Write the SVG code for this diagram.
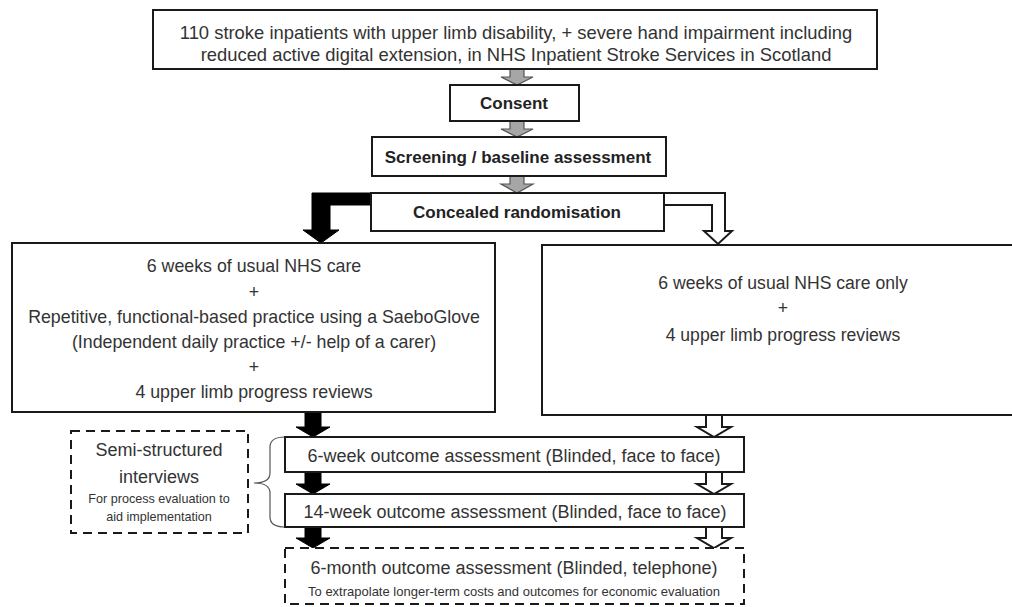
<svg xmlns="http://www.w3.org/2000/svg" width="1012" height="607" viewBox="0 0 1012 607">
<style>
.box{fill:#fff;stroke:#1a1a1a;stroke-width:2}
.dash{fill:#fff;stroke:#1a1a1a;stroke-width:2;stroke-dasharray:9 6}
.t{font-family:"Liberation Sans",Arial,sans-serif;fill:#333;text-anchor:middle;dominant-baseline:central}
.b{font-weight:bold;fill:#222}
.gray{fill:#a6a6a6;stroke:#555;stroke-width:1.2}
.blk{fill:#000;stroke:#000;stroke-width:1}
.wht{fill:#fff;stroke:#1a1a1a;stroke-width:2;stroke-linejoin:miter}
.brace{fill:none;stroke:#555;stroke-width:1.2}
</style>
<rect width="1012" height="607" fill="#fff"/>
<g id="connectors">
<polygon class="gray" points="510,69 524,69 524,77 533,77 517,85 501,77 510,77"/>
<polygon class="gray" points="510,121 524,121 524,129 533,129 517,137 501,129 510,129"/>
<polygon class="gray" points="510,176 524,176 524,184 533,184 517,193 501,184 510,184"/>
<path class="blk" d="M371 193 L312 193 L312 230 L303 230 L321 243 L339 230 L330 230 L330 205 L371 205 Z"/>
<path class="wht" d="M664 193 L725 193 L725 231 L732 231 L718 244 L704 231 L712 231 L712 205 L664 205"/>
<path class="blk" d="M305 413 L321 413 L321 427 L330 427 L313 437 L296 427 L305 427 Z"/>
<path class="blk" d="M305 472 L321 472 L321 484 L330 484 L313 494 L296 484 L305 484 Z"/>
<path class="blk" d="M305 527 L321 527 L321 538 L330 538 L313 548 L296 538 L305 538 Z"/>
<path class="wht" d="M706 415 L706 427 L697 427 L714 437 L731 427 L722 427 L722 415"/>
<path class="wht" d="M706 473 L706 484 L697 484 L714 494 L731 484 L722 484 L722 473"/>
<path class="wht" d="M706 527 L706 538 L697 538 L714 548 L731 538 L722 538 L722 527"/>
<path class="brace" d="M285 437 Q270 437 270 447 L270 473 Q270 483 254 483 Q270 483 270 493 L270 517 Q270 527 285 527"/>
</g>
<g id="n-population">
<rect class="box" x="153" y="10" width="724" height="59"/>
<text class="t" x="516" y="32" font-size="18.4">110 stroke inpatients with upper limb disability, + severe hand impairment including</text>
<text class="t" x="516" y="54" font-size="18.4">reduced active digital extension, in NHS Inpatient Stroke Services in Scotland</text>
</g>
<g id="n-consent">
<rect class="box" x="450" y="85" width="129" height="36"/>
<text class="t b" x="514" y="103" font-size="17">Consent</text>
</g>
<g id="n-screening">
<rect class="box" x="372" y="137" width="294" height="39"/>
<text class="t b" x="518" y="157" font-size="17">Screening / baseline assessment</text>
</g>
<g id="n-randomisation">
<rect class="box" x="371" y="193" width="293" height="38"/>
<text class="t b" x="517" y="212" font-size="17">Concealed randomisation</text>
</g>
<g id="n-intervention">
<rect class="box" x="12" y="243" width="483" height="169"/>
<text class="t" x="254" y="266" font-size="17.8">6 weeks of usual NHS care</text>
<text class="t" x="254" y="292" font-size="17.8">+</text>
<text class="t" x="254" y="317" font-size="17.8">Repetitive, functional-based practice using a SaeboGlove</text>
<text class="t" x="254" y="342" font-size="17.8">(Independent daily practice +/- help of a carer)</text>
<text class="t" x="254" y="367" font-size="17.8">+</text>
<text class="t" x="254" y="392" font-size="17.8">4 upper limb progress reviews</text>
</g>
<g id="n-control">
<rect class="box" x="542" y="245" width="480" height="170"/>
<text class="t" x="783" y="283" font-size="17.6">6 weeks of usual NHS care only</text>
<text class="t" x="783" y="308" font-size="17.6">+</text>
<text class="t" x="783" y="335" font-size="17.6">4 upper limb progress reviews</text>
</g>
<g id="n-interviews">
<rect class="dash" x="71" y="431" width="177" height="102"/>
<text class="t" x="159" y="450" font-size="18">Semi-structured</text>
<text class="t" x="159" y="477" font-size="18">interviews</text>
<text class="t" x="159" y="499" font-size="12.6">For process evaluation to</text>
<text class="t" x="159" y="517" font-size="12.6">aid implementation</text>
</g>
<g id="n-week6">
<rect class="box" x="285" y="437" width="459" height="35"/>
<text class="t" x="514" y="456" font-size="18">6-week outcome assessment (Blinded, face to face)</text>
</g>
<g id="n-week14">
<rect class="box" x="285" y="494" width="459" height="33"/>
<text class="t" x="515" y="512" font-size="18">14-week outcome assessment (Blinded, face to face)</text>
</g>
<g id="n-month6">
<rect class="dash" x="285" y="548" width="459" height="56"/>
<text class="t" x="514" y="568" font-size="18">6-month outcome assessment (Blinded, telephone)</text>
<text class="t" x="514" y="591" font-size="13">To extrapolate longer-term costs and outcomes for economic evaluation</text>
</g>
</svg>
